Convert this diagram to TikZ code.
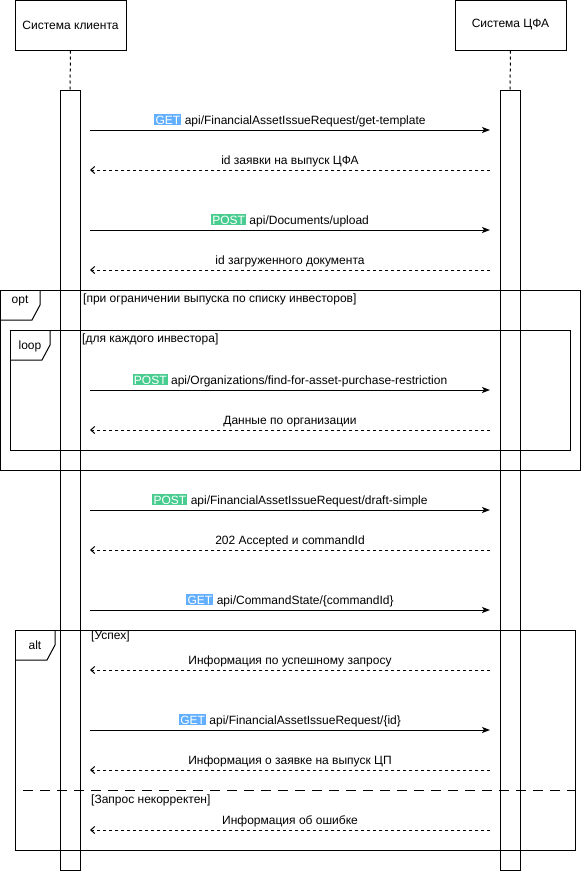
\documentclass[tikz,border=0pt]{standalone}
\usepackage{fontspec}
\setmainfont{Liberation Sans}
\usetikzlibrary{arrows.meta}
\definecolor{getblue}{HTML}{61AFFE}
\definecolor{postgreen}{HTML}{49CC90}
\newcommand{\verbget}{{\setlength{\fboxsep}{1.2pt}\colorbox{getblue}{\textcolor{white}{GET}}}}
\newcommand{\verbpost}{{\setlength{\fboxsep}{1.2pt}\colorbox{postgreen}{\textcolor{white}{POST}}}}
\tikzset{
  every node/.style={font=\fontsize{12}{14}\selectfont},
  actor/.style={draw, line width=1pt, minimum width=111pt, minimum height=50pt, inner sep=0pt},
  actbar/.style={draw, line width=1pt, minimum width=20pt, minimum height=780pt, inner sep=0pt, anchor=north},
  lifeline/.style={line width=1pt, dash pattern=on 3pt off 3pt},
  call/.style={line width=1pt, -{Stealth[length=8pt,width=6pt,inset=2pt]}},
  reply/.style={line width=1pt, dash pattern=on 3pt off 3pt, -{Straight Barb[length=4pt,width=7pt]}},
  msglabel/.style={midway, above, yshift=2pt, inner sep=1pt},
  frame/.style={draw, line width=1pt},
  fragtag/.style={inner sep=0pt},
  guard/.style={anchor=west, inner sep=0pt},
}
\begin{document}
\begin{tikzpicture}[x=1pt, y=-1pt]
\useasboundingbox (0,0) rectangle (581,871);

% participants
\node[actor] (client) at (70.5,25) {Система клиента};
\node[actor] (cfa) at (510.5,25) {Система ЦФА};
\node[actbar] (cbar) at (70,90) {};
\node[actbar] (sbar) at (510,90) {};
\draw[lifeline] (client.south) -- (cbar.north);
\draw[lifeline] (cfa.south) -- (sbar.north);

% message end points
\foreach \n/\y in {1/130,2/170,3/230,4/270,5/390,6/430,7/510,8/550,9/610,10/670,11/730,12/770,13/830}{
  \coordinate (L\n) at (90,\y);
  \coordinate (R\n) at (490,\y);
}

% opt fragment
\draw[frame] (0.5,290) rectangle (580.5,470);
\draw[frame] (0.5,320) -- (32,320) -- (40,305) -- (40,290);
\node[fragtag] (optlbl) at (20,301) {opt};
\node[guard] (optg) at (83,299) {[при ограничении выпуска по списку инвесторов]};

% loop fragment
\draw[frame] (10,330) rectangle (570,450);
\draw[frame] (10,360) -- (42,360) -- (50,345) -- (50,330);
\node[fragtag] (looplbl) at (30,346) {loop};
\node[guard] (loopg) at (82,339) {[для каждого инвестора]};

% alt fragment
\draw[frame] (15,630) rectangle (575,850);
\draw[frame] (15,660) -- (47,660) -- (55,645) -- (55,630);
\node[fragtag] (altlbl) at (35,645) {alt};
\node[guard] (altg1) at (91,636) {[Успех]};
\draw[line width=1pt, dash pattern=on 10pt off 7pt] (23,790) -- (575,790);
\node[guard] (altg2) at (91,800) {[Запрос некорректен]};

% messages
\draw[call] (L1) -- node[msglabel] {\verbget\ api/FinancialAssetIssueRequest/get-template} (R1);
\draw[reply] (R2) -- node[msglabel] {id заявки на выпуск ЦФА} (L2);
\draw[call] (L3) -- node[msglabel] {\verbpost\ api/Documents/upload} (R3);
\draw[reply] (R4) -- node[msglabel] {id загруженного документа} (L4);
\draw[call] (L5) -- node[msglabel] {\verbpost\ api/Organizations/find-for-asset-purchase-restriction} (R5);
\draw[reply] (R6) -- node[msglabel] {Данные по организации} (L6);
\draw[call] (L7) -- node[msglabel] {\verbpost\ api/FinancialAssetIssueRequest/draft-simple} (R7);
\draw[reply] (R8) -- node[msglabel] {202 Accepted и commandId} (L8);
\draw[call] (L9) -- node[msglabel] {\verbget\ api/CommandState/\{commandId\}} (R9);
\draw[reply] (R10) -- node[msglabel] {Информация по успешному запросу} (L10);
\draw[call] (L11) -- node[msglabel] {\verbget\ api/FinancialAssetIssueRequest/\{id\}} (R11);
\draw[reply] (R12) -- node[msglabel] {Информация о заявке на выпуск ЦП} (L12);
\draw[reply] (R13) -- node[msglabel] {Информация об ошибке} (L13);
\end{tikzpicture}
\end{document}
